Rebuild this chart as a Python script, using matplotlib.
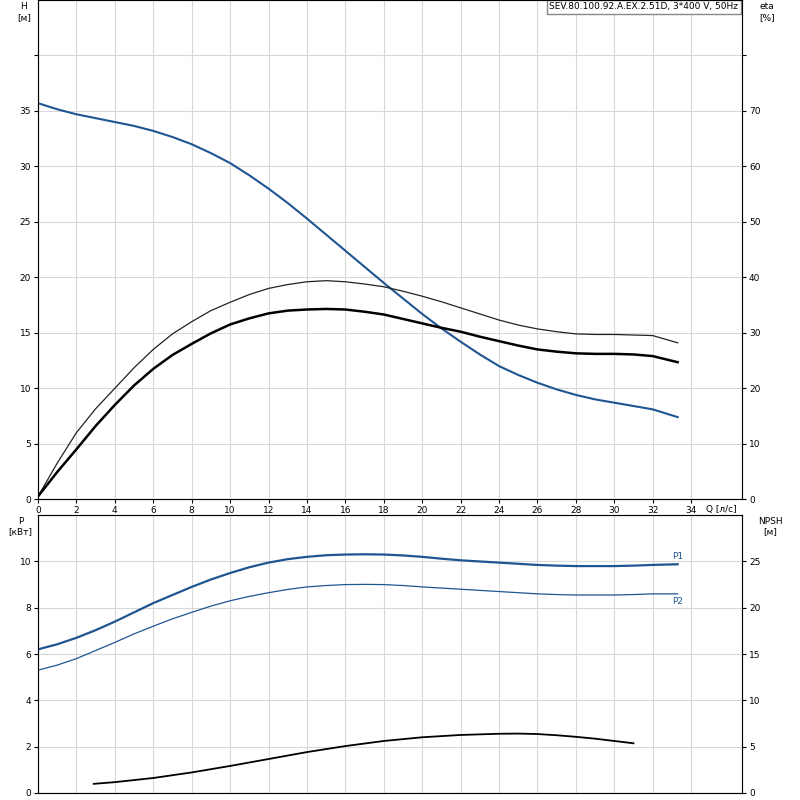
import numpy as np
import matplotlib.pyplot as plt

q = [0, 1, 2, 3, 4, 5, 6, 7, 8, 9, 10, 11, 12, 13, 14, 15, 16, 17, 18, 19, 20, 21,
     22, 23, 24, 25, 26, 27, 28, 29, 30, 31, 32, 33.3]
head = [35.7, 35.15, 34.7, 34.35, 34.0, 33.65, 33.2, 32.65, 32.0, 31.2, 30.3, 29.2, 28.0, 26.7,
        25.3, 23.85, 22.4, 20.95, 19.5, 18.1, 16.7, 15.4, 14.2, 13.05, 12.0, 11.2, 10.5, 9.9,
        9.4, 9.0, 8.7, 8.4, 8.1, 7.4]
eta_thin = [0.5, 6.5, 12, 16.3, 20, 23.7, 27, 29.8, 32, 34, 35.5, 36.9, 38, 38.7, 39.2, 39.4,
            39.2, 38.8, 38.3, 37.5, 36.6, 35.6, 34.5, 33.4, 32.3, 31.4, 30.7, 30.2, 29.8, 29.7,
            29.7, 29.6, 29.5, 28.2]
eta_thick = [0.5, 4.9, 9, 13.2, 17, 20.5, 23.5, 26, 28, 29.9, 31.5, 32.6, 33.5, 34.0, 34.2, 34.3,
             34.2, 33.8, 33.3, 32.5, 31.7, 30.9, 30.2, 29.3, 28.5, 27.7, 27, 26.6, 26.3, 26.2,
             26.2, 26.1, 25.8, 24.7]
p1 = [6.2, 6.42, 6.7, 7.03, 7.4, 7.8, 8.2, 8.55, 8.9, 9.22, 9.5, 9.75, 9.95, 10.1, 10.2, 10.27,
      10.3, 10.31, 10.3, 10.26, 10.2, 10.12, 10.05, 10.0, 9.95, 9.9, 9.85, 9.82, 9.8, 9.8,
      9.8, 9.82, 9.85, 9.88]
p2 = [5.3, 5.52, 5.8, 6.15, 6.5, 6.87, 7.2, 7.52, 7.8, 8.07, 8.3, 8.49, 8.65, 8.79, 8.9, 8.96,
      9.0, 9.01, 9.0, 8.96, 8.9, 8.85, 8.8, 8.75, 8.7, 8.65, 8.6, 8.57, 8.55, 8.55,
      8.55, 8.57, 8.6, 8.6]
q_npsh = [2.9, 4, 6, 8, 10, 12, 14, 16, 18, 20, 22, 24, 25, 26, 27, 28, 29, 30, 31]
npsh = [0.97, 1.15, 1.6, 2.2, 2.9, 3.65, 4.4, 5.05, 5.6, 6.0, 6.25, 6.38, 6.4, 6.35, 6.22, 6.05,
        5.85, 5.6, 5.35]

blue = '#1f5591'
qmax = 36.65
fs = 6.5
plt.rcParams['font.size'] = fs

fig = plt.figure(figsize=(8, 8), dpi=100)
ax = fig.add_axes([0.0475, 0.376, 0.88, 0.624])
ax2 = fig.add_axes([0.0475, 0.009, 0.88, 0.347])

def style(a):
    a.set_xlim(0, qmax)
    a.set_xticks(np.arange(0, 35, 2))
    a.grid(True, color='#d8d8d8', lw=0.8)
    a.tick_params(length=3, labelsize=fs, pad=2)
    for s in a.spines.values():
        s.set_color('#888888')

style(ax)
ax.set_ylim(0, 45)
ax.set_yticks(np.arange(0, 45, 5))
ax.set_yticklabels([str(v) for v in range(0, 40, 5)] + [''])
ax.plot(q, head, color=blue, lw=1.5)
axe = ax.twinx()
axe.set_ylim(0, 90)
axe.set_yticks(np.arange(0, 90, 10))
axe.set_yticklabels([str(v) for v in range(0, 80, 10)] + [''])
axe.tick_params(length=3, labelsize=fs, pad=2)
axe.plot(q, eta_thin, color='#222222', lw=0.9)
axe.plot(q, eta_thick, color='black', lw=1.8)
ax.text(-0.02, 0.995, 'H\n[м]', transform=ax.transAxes, ha='center', va='top', fontsize=fs)
ax.text(1.035, 0.995, 'eta\n[%]', transform=ax.transAxes, ha='center', va='top', fontsize=fs)
ax.text(34.8, -0.5, 'Q [л/с]', ha='left', va='top', fontsize=fs)
ax.text(0.995, 0.995, 'SEV.80.100.92.A.EX.2.51D, 3*400 V, 50Hz', transform=ax.transAxes,
        ha='right', va='top', fontsize=fs,
        bbox=dict(facecolor='white', edgecolor='#888888', boxstyle='square,pad=0.3'))

style(ax2)
ax2.set_ylim(0, 12)
ax2.set_yticks(np.arange(0, 12, 2))
ax2.set_xticklabels([])
ax2.tick_params(axis='x', length=0)
ax2.plot(q, p1, color=blue, lw=1.6)
ax2.plot(q, p2, color=blue, lw=0.9)
ax2.text(33.3, p1[-1] + 0.15, 'P1', color=blue, fontsize=fs, ha='center', va='bottom')
ax2.text(33.3, p2[-1] - 0.15, 'P2', color=blue, fontsize=fs, ha='center', va='top')
axn = ax2.twinx()
axn.set_ylim(0, 30)
axn.set_yticks(np.arange(0, 30, 5))
axn.tick_params(length=3, labelsize=fs, pad=2)
axn.plot(q_npsh, npsh, color='black', lw=1.3)
ax2.text(-0.025, 0.995, 'P\n[кВт]', transform=ax2.transAxes, ha='center', va='top', fontsize=fs)
ax2.text(1.04, 0.995, 'NPSH\n[м]', transform=ax2.transAxes, ha='center', va='top', fontsize=fs)

fig.savefig('out.png', dpi=100)
